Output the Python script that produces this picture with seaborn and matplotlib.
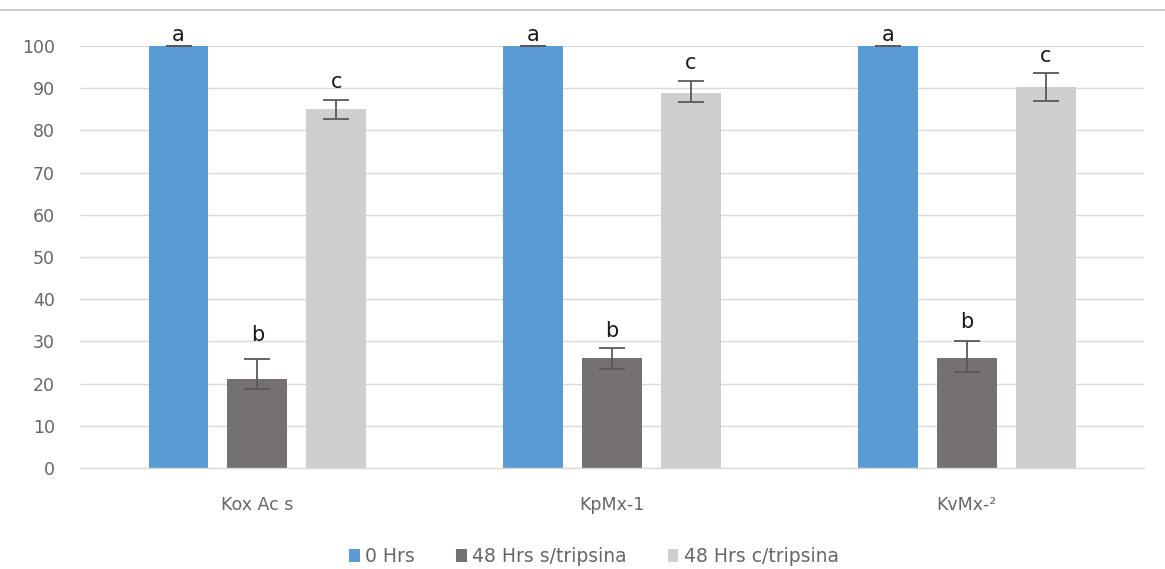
import matplotlib
matplotlib.use("Agg")
import matplotlib.pyplot as plt
from matplotlib.lines import Line2D
import seaborn as sns
import pandas as pd

# Data
strains = ["Kox Ac s", "KpMx-1", "KvMx-²"]
treatments = ["0 Hrs", "48 Hrs s/tripsina", "48 Hrs c/tripsina"]
values_0h = [100, 100, 100]
values_48_s = [21, 26, 26]
values_48_c = [85, 88.8, 90.4]
err_lo_0h = [0, 0, 0]
err_hi_0h = [0, 0, 0]
err_lo_48_s = [2.2, 2.6, 3.3]
err_hi_48_s = [4.9, 2.4, 4.2]
err_lo_48_c = [2.3, 2.1, 3.4]
err_hi_48_c = [2.2, 3.0, 3.3]
letters_0h = ["a", "a", "a"]
letters_48_s = ["b", "b", "b"]
letters_48_c = ["c", "c", "c"]
y_ticks = list(range(0, 101, 10))

colors = ["#5B9BD5", "#767171", "#D0CECE"]
# gap (points) between the top of each error bar and its letter
letter_pad = [[1.0, 1.0, 1.0], [10.0, 5.0, 6.0], [5.5, 5.5, 5.0]]

df = pd.DataFrame({
    "strain": strains * 3,
    "treatment": [t for t in treatments for _ in strains],
    "value": values_0h + values_48_s + values_48_c,
})

sns.set_theme(style="white")
plt.rcParams["font.family"] = ["DejaVu Sans"]

fig = plt.figure(figsize=(11.65, 5.69), dpi=100)
ax = fig.add_axes([0.0687, 0.1775, 0.9133, 0.7415])

sns.barplot(data=df, x="strain", y="value", hue="treatment", order=strains,
            hue_order=treatments, palette=colors, width=0.667, gap=0.24,
            saturation=1, errorbar=None, linewidth=0, ax=ax, zorder=2)

errs_lo = [err_lo_0h, err_lo_48_s, err_lo_48_c]
errs_hi = [err_hi_0h, err_hi_48_s, err_hi_48_c]
series = [values_0h, values_48_s, values_48_c]
letters = [letters_0h, letters_48_s, letters_48_c]

for cont, vals, lo, hi, labs, pads in zip(ax.containers, series, errs_lo,
                                         errs_hi, letters, letter_pad):
    xs = [p.get_x() + p.get_width() / 2 for p in cont.patches]
    ax.errorbar(xs, vals, yerr=[lo, hi], fmt="none", ecolor="#595959",
                elinewidth=1.3, capsize=9.5, capthick=1.3, zorder=3,
                clip_on=False)
    for x, v, h, lab, pad in zip(xs, vals, hi, labs, pads):
        ax.annotate(lab, (x, v + h), xytext=(0, pad), textcoords="offset points",
                    ha="center", va="bottom", fontsize=15, color="#1a1a1a",
                    annotation_clip=False)

ax.set_ylim(0, 100)
ax.set_xlim(-0.5, 2.5)
ax.set_yticks(y_ticks)
ax.yaxis.grid(True, color="#D9D9D9", linewidth=1.0, zorder=0)
ax.set_axisbelow(True)
for side in ["left", "right", "top"]:
    ax.spines[side].set_visible(False)
ax.spines["bottom"].set_color("#D9D9D9")
ax.spines["bottom"].set_linewidth(1.0)
ax.tick_params(axis="both", length=0, labelsize=12.5, labelcolor="#666666")
ax.tick_params(axis="y", pad=18)
ax.tick_params(axis="x", pad=20)
ax.set_xlabel("")
ax.set_ylabel("")

handles, labels = ax.get_legend_handles_labels()
ax.legend(handles, labels, loc="center", bbox_to_anchor=(0.51, 0.022),
          bbox_transform=fig.transFigure, ncol=3, frameon=False,
          handlelength=0.55, handleheight=0.65, handletextpad=0.3,
          columnspacing=2.2, fontsize=13.5, labelcolor="#666666")

fig.add_artist(Line2D([0, 1], [1 - 10 / 569, 1 - 10 / 569],
                      transform=fig.transFigure, color="#BFBFBF", linewidth=1.2))

fig.savefig("out.png", dpi=100, facecolor="white")
